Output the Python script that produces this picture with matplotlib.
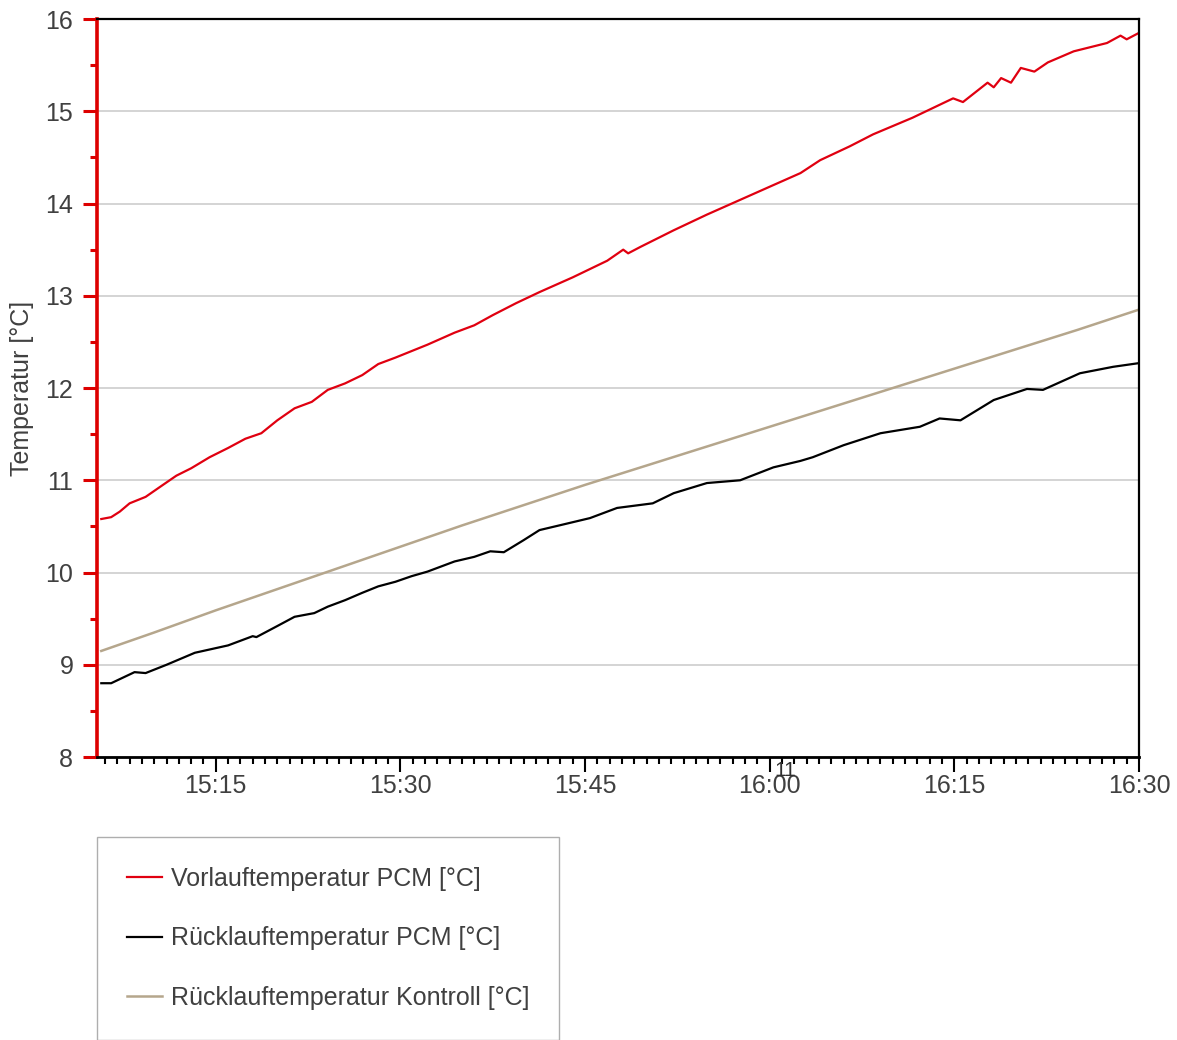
import numpy as np
import matplotlib.pyplot as plt
from matplotlib.ticker import MultipleLocator, FuncFormatter

plt.rcParams['font.family'] = ['Liberation Sans', 'DejaVu Sans']

# time in minutes after 15:00
t_vorlauf = [5.7, 6.5, 7.2, 8.0, 9.3, 10.6, 11.8, 13.0, 14.5, 16.0, 17.4, 18.7,
             20.0, 21.4, 22.8, 24.1, 25.5, 26.9, 28.2, 29.6, 30.9, 32.2, 34.4,
             36.0, 37.5, 39.4, 41.3, 44.0, 46.8, 48.1, 48.5, 49.5, 52.2, 54.9,
             57.6, 60.3, 62.5, 64.1, 66.5, 68.4, 71.6, 74.9, 75.7, 77.7, 78.2,
             78.8, 79.6, 80.4, 81.5, 82.6, 84.7, 87.4, 88.5, 89.0, 90.0]
vorlauf = [10.58, 10.60, 10.66, 10.75, 10.82, 10.94, 11.05, 11.13, 11.25, 11.35,
           11.45, 11.51, 11.65, 11.78, 11.85, 11.98, 12.05, 12.14, 12.26, 12.33,
           12.40, 12.47, 12.60, 12.68, 12.79, 12.92, 13.04, 13.20, 13.38, 13.50,
           13.46, 13.53, 13.71, 13.88, 14.04, 14.20, 14.33, 14.47, 14.62, 14.75,
           14.93, 15.14, 15.10, 15.31, 15.26, 15.36, 15.31, 15.47, 15.43, 15.53,
           15.65, 15.74, 15.82, 15.78, 15.85]

t_ruecklauf = [5.7, 6.5, 8.4, 9.3, 11.0, 13.3, 16.0, 18.0, 18.3, 20.0, 21.4, 23.0,
               24.1, 25.5, 26.9, 28.2, 29.6, 30.9, 32.2, 34.4, 36.0, 37.3, 38.4,
               40.0, 41.3, 43.2, 45.4, 47.6, 50.5, 52.2, 54.9, 57.6, 60.3, 62.5,
               63.5, 66.0, 69.0, 72.2, 73.8, 75.5, 78.2, 80.9, 82.2, 85.2, 87.9,
               90.0]
ruecklauf = [8.80, 8.80, 8.92, 8.91, 9.00, 9.13, 9.21, 9.31, 9.30, 9.42, 9.52,
             9.56, 9.63, 9.70, 9.78, 9.85, 9.90, 9.96, 10.01, 10.12, 10.17, 10.23,
             10.22, 10.35, 10.46, 10.52, 10.59, 10.70, 10.75, 10.86, 10.97, 11.00,
             11.14, 11.21, 11.25, 11.38, 11.51, 11.58, 11.67, 11.65, 11.87, 11.99,
             11.98, 12.16, 12.23, 12.27]

t_kontroll = [5.7, 10, 15, 20, 25, 30, 35, 40, 45, 50, 55, 60, 65, 70, 75, 80, 85, 90]
kontroll = [9.15, 9.35, 9.59, 9.82, 10.05, 10.28, 10.51, 10.73, 10.95, 11.16,
            11.37, 11.58, 11.79, 12.00, 12.21, 12.42, 12.63, 12.85]

labels = ['Vorlauftemperatur PCM [°C]', 'Rücklauftemperatur PCM [°C]',
          'Rücklauftemperatur Kontroll [°C]']
colors = ['#e00010', '#000000', '#b5a68c']

fig = plt.figure(figsize=(11.77, 10.40), dpi=100)
ax = fig.add_axes([0.0824, 0.2721, 0.9677 - 0.0824, 0.9817 - 0.2721])

ax.plot(t_vorlauf, vorlauf, color=colors[0], lw=1.6, label=labels[0])
ax.plot(t_ruecklauf, ruecklauf, color=colors[1], lw=1.6, label=labels[1])
ax.plot(t_kontroll, kontroll, color=colors[2], lw=1.8, label=labels[2])

ax.set_xlim(5.35, 90)
ax.set_ylim(8, 16)

ax.yaxis.set_major_locator(MultipleLocator(1))
ax.yaxis.set_minor_locator(MultipleLocator(0.5))
ax.xaxis.set_major_locator(MultipleLocator(15))
ax.xaxis.set_minor_locator(MultipleLocator(1))
ax.xaxis.set_major_formatter(FuncFormatter(
    lambda v, p: f"{15 + int(v) // 60}:{int(v) % 60:02d}"))

ax.grid(axis='y', which='major', color='#d4d4d4', lw=1.4)
ax.set_axisbelow(True)

ax.spines['left'].set_color('#dd0000')
ax.spines['left'].set_linewidth(2.6)
ax.spines['bottom'].set_linewidth(2.0)
ax.spines['top'].set_linewidth(1.6)
ax.spines['right'].set_linewidth(1.6)

ax.tick_params(axis='y', which='major', direction='out', length=10, width=2.2,
               color='#dd0000', labelsize=18, labelcolor='#404040', pad=7)
ax.tick_params(axis='y', which='minor', direction='out', length=5, width=2.2,
               color='#dd0000')
ax.tick_params(axis='x', which='major', direction='out', length=11, width=1.5,
               labelsize=18, labelcolor='#404040', pad=1)
ax.tick_params(axis='x', which='minor', direction='out', length=5, width=1.5)

ax.set_ylabel('Temperatur [°C]', fontsize=18, color='#404040', labelpad=8)

ax.text(61.3, 7.85, '11', fontsize=15, color='#303030', ha='center', va='center',
        clip_on=False)

fig.legend(loc='upper left', bbox_to_anchor=(97 / 1177, 1 - 837 / 1040),
           fontsize=18, frameon=True, fancybox=False, edgecolor='#9a9a9a',
           handlelength=1.4, handletextpad=0.35, labelspacing=1.42, borderpad=1.2,
           borderaxespad=0)
for txt in fig.legends[0].get_texts():
    txt.set_color('#404040')
fig.legends[0].get_frame().set_linewidth(1.0)

fig.savefig('out.png', dpi=100)
